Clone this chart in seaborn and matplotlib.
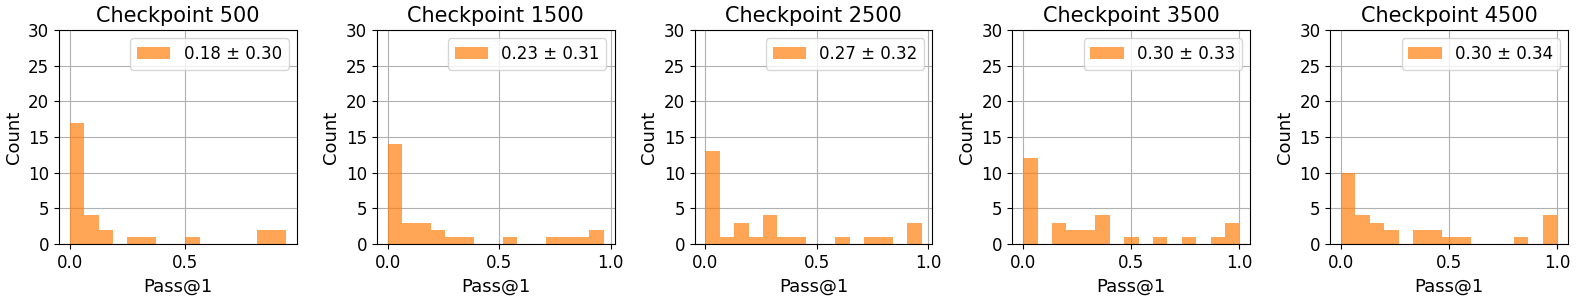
import numpy as np
import pandas as pd
import matplotlib
matplotlib.use("Agg")
import matplotlib.pyplot as plt
import seaborn as sns

# -- Histogram data (15 bins, min..max of each run) ----
checkpoints = [500, 1500, 2500, 3500, 4500]
data_max    = [0.94, 0.97, 0.97, 1.0, 1.0]
counts_500  = [17, 4, 2, 0, 1, 1, 0, 0, 1, 0, 0, 0, 0, 2, 2]
counts_1500 = [14, 3, 3, 2, 1, 1, 0, 0, 1, 0, 0, 1, 1, 1, 2]
counts_2500 = [13, 1, 3, 1, 4, 1, 1, 0, 0, 1, 0, 1, 1, 0, 3]
counts_3500 = [12, 0, 3, 2, 2, 4, 0, 1, 0, 1, 0, 1, 0, 1, 3]
counts_4500 = [10, 4, 3, 2, 0, 2, 2, 1, 1, 0, 0, 0, 1, 0, 4]
means = [0.18, 0.23, 0.27, 0.30, 0.30]
stds  = [0.30, 0.31, 0.32, 0.33, 0.34]

all_counts = [counts_500, counts_1500, counts_2500, counts_3500, counts_4500]

C_ORANGE = "#ff7f0e"

plt.rcParams.update({"font.family": "DejaVu Sans"})

fig, axes = plt.subplots(1, 5, figsize=(15.78, 2.99), dpi=100)
fig.subplots_adjust(left=0.0374, right=0.9937, top=0.8997, bottom=0.184, wspace=0.336)

for ax, ckpt, hi, counts, m, s in zip(axes, checkpoints, data_max, all_counts, means, stds):
    edges = np.linspace(0.0, hi, len(counts) + 1)
    df = pd.DataFrame({"x": (edges[:-1] + edges[1:]) / 2, "w": counts})
    sns.histplot(data=df, x="x", weights="w", bins=edges.tolist(), ax=ax,
                 color=C_ORANGE, alpha=0.7, edgecolor="none", linewidth=0,
                 label=f"{m:.2f} ± {s:.2f}", zorder=2)
    ax.set_axisbelow(True)
    ax.grid(True, color="#b0b0b0", linewidth=0.8)
    ax.set_ylim(0, 30)
    ax.set_yticks(range(0, 31, 5))
    ax.margins(x=0.05)
    ax.set_title(f"Checkpoint {ckpt}", fontsize=15)
    ax.set_xlabel("Pass@1", fontsize=13)
    ax.set_ylabel("Count", fontsize=13)
    ax.tick_params(labelsize=12)
    ax.legend(loc="upper right", fontsize=12)

fig.savefig("out.png", dpi=100)
plt.close(fig)
